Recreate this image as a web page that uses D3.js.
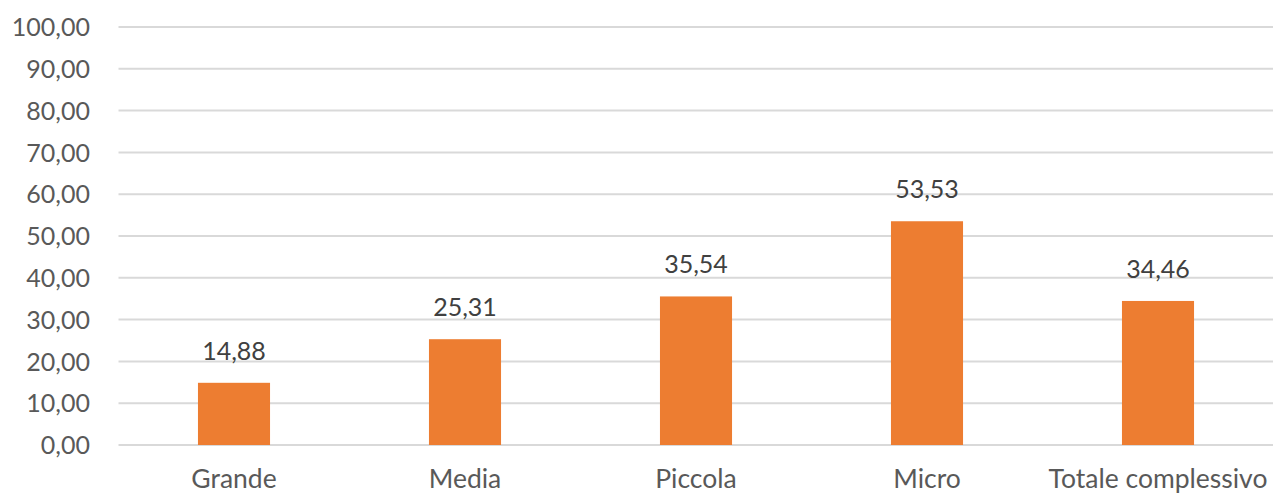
<!DOCTYPE html>
<html><head><meta charset="utf-8">
<script src="https://cdn.jsdelivr.net/npm/d3@7"></script>
<style>body{margin:0;background:#fff}</style>
</head><body>
<svg id="c" width="1273" height="496"></svg>
<script>
const categories = ["Grande","Media","Piccola","Micro","Totale complessivo"];
const values = [14.88, 25.31, 35.54, 53.53, 34.46];
const yTicks = [0,10,20,30,40,50,60,70,80,90,100];

(function(){
const svg = d3.select("#c");
const mLeft = 118.5, mRight = 1273.5, mTop = 27, mBottom = 445;
const fmt = v => d3.format(".2f")(v).replace(".", ",");
const font = "Lato, 'Open Sans', sans-serif";

const x = d3.scaleBand().domain(categories).range([mLeft, mRight]).paddingInner(0.688).paddingOuter(0.344);
const y = d3.scaleLinear().domain([0,100]).range([mBottom, mTop]);

svg.append("g").selectAll("line").data(yTicks).join("line")
  .attr("x1", mLeft).attr("x2", 1273)
  .attr("y1", d => y(d)).attr("y2", d => y(d))
  .attr("stroke", "#d9d9d9").attr("stroke-width", 2);

const yAxis = d3.axisLeft(y).tickValues(yTicks).tickFormat(fmt).tickSize(0).tickPadding(0);
const ya = svg.append("g").attr("transform", "translate(90,0)").call(yAxis);
ya.select(".domain").remove();
ya.selectAll("text").attr("font-family", font).attr("font-size", 25).attr("fill", "#595959").attr("dy", "0.35em");

svg.append("g").selectAll("rect").data(values).join("rect")
  .attr("x", (d,i) => x(categories[i])).attr("width", x.bandwidth())
  .attr("y", d => y(d)).attr("height", d => y(0) - y(d))
  .attr("fill", "#ED7D31");

svg.append("g").selectAll("text").data(values).join("text")
  .attr("x", (d,i) => x(categories[i]) + x.bandwidth()/2)
  .attr("y", d => y(d) - 23)
  .attr("text-anchor", "middle")
  .attr("font-family", font).attr("font-size", 25).attr("fill", "#404040")
  .text(fmt);

const xAxis = d3.axisBottom(x).tickSize(0).tickPadding(0);
const xa = svg.append("g").attr("transform", "translate(0,488)").call(xAxis);
xa.select(".domain").remove();
xa.selectAll("text").attr("font-family", font).attr("font-size", 26.5).attr("fill", "#595959").attr("dy", 0);
})();
</script>
</body></html>
